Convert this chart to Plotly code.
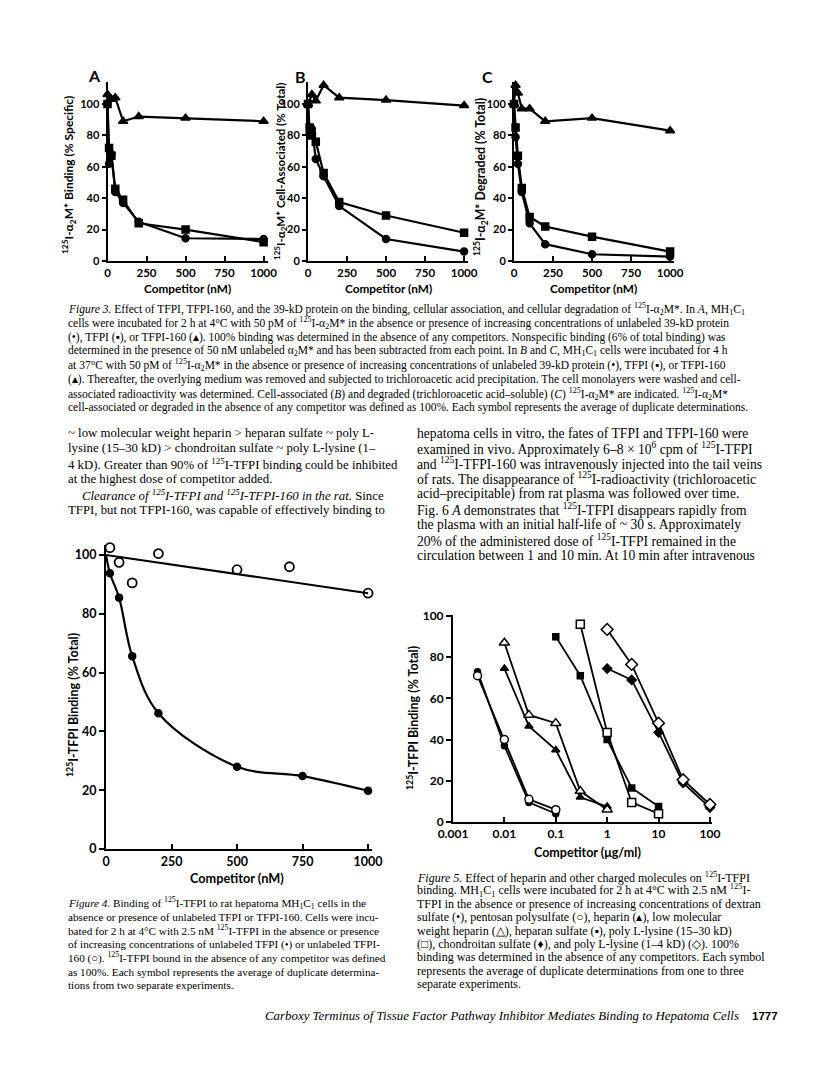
import plotly.graph_objects as go

# The page body adds an 8px margin around the figure; the figure is sized so that
# page pixel p corresponds to figure pixel p - 8.
OFF = 8
FW, FH = 800, 1066

# ---------------- Figure 3 data (competitor, nM) ----------------
comp_nM = [0, 10, 25, 50, 100, 200, 500, 1000]
A_tri_x = [0, 25, 50, 100, 200, 500, 1000]
A_39kD = [100, 62, 68, 44, 37, 25, 14.5, 14]
A_TFPI = [100, 72, 67, 46, 39, 24, 20, 12]
A_TFPI160 = [106, 103, 104, 89, 92, 91, 89]
B_tri_x = [0, 25, 50, 100, 200, 500, 1000]
B_39kD = [100, 81, 84, 65, 54, 35, 14, 6]
B_TFPI = [100, 85, 80, 76, 56, 37.5, 29, 18]
B_TFPI160 = [100, 106, 102, 112, 104, 102.5, 99]
C_tri_x = [0, 10, 25, 50, 100, 200, 500, 1000]
C_39kD = [100, 79, 62, 44, 24, 10.7, 4.3, 2.8]
C_TFPI = [100, 85, 67, 46.5, 28, 22, 15.5, 6]
C_TFPI160 = [100, 112, 107, 97, 97, 89, 91, 83]
fig3_xticks = [0, 250, 500, 750, 1000]
fig3_yticks = [0, 20, 40, 60, 80, 100]

# ---------------- Figure 4 data ----------------
f4_tfpi_x = [15, 50, 100, 200, 500, 750, 1000]
f4_tfpi_y = [93.8, 85.5, 65.6, 46.2, 28, 24.8, 19.8]
f4_curve_x = [0, 15, 50, 100, 200, 500, 750, 1000]
f4_curve_y = [100, 93.8, 85.5, 65.6, 46.2, 28, 24.8, 19.8]
f4_160_x = [15, 50, 100, 200, 500, 700, 1000]
f4_160_y = [102.5, 97.5, 90.5, 100.5, 95, 96, 87]
f4_fit_x = [0, 1000]
f4_fit_y = [100, 87]

# ---------------- Figure 5 data (competitor, ug/ml) ----------------
dextran_x = [0.003, 0.01, 0.03, 0.1]
dextran_y = [73, 37, 9.5, 4]
pentosan_x = [0.003, 0.01, 0.03, 0.1]
pentosan_y = [71, 40, 11, 6]
heparin_x = [0.01, 0.03, 0.1, 0.3, 1]
heparin_y = [74.5, 46.5, 35, 12, 7.5]
lmwhep_x = [0.01, 0.03, 0.1, 0.3, 1]
lmwhep_y = [87, 52, 48, 15, 6]
heparan_x = [0.1, 0.3, 1, 3, 10]
heparan_y = [90, 71, 40, 16.5, 7.5]
pll15_x = [0.3, 1, 3, 10]
pll15_y = [96, 43.5, 9.5, 4]
chondro_x = [1, 3, 10, 30, 100]
chondro_y = [74.5, 69, 43.5, 19, 7]
pll1_x = [1, 3, 10, 30, 100]
pll1_y = [93.5, 76.5, 48, 20.5, 8.5]
fig5_xticks = [0.001, 0.01, 0.1, 1, 10, 100]
fig5_xticktext = ["0.001", "0.01", "0.1", "1", "10", "100"]

SANS = "Lato"
SERIF = "Liberation Serif"

fig = go.Figure()


def line_trace(x, y, sym, ax, size=7, lw=2.2, mlw=1.5, shape="linear", mode="lines+markers", fill="black"):
    fig.add_trace(go.Scatter(
        x=x, y=y, mode=mode, xaxis=ax[0], yaxis=ax[1],
        line=dict(color="black", width=lw, shape=shape),
        marker=dict(symbol=sym, size=size, color=fill,
                    line=dict(color="black", width=mlw)),
        cliponaxis=False, showlegend=False, hoverinfo="skip"))


# Figure 3 panels
panels = [
    (("x", "y"), comp_nM, A_39kD, A_TFPI, A_tri_x, A_TFPI160),
    (("x2", "y2"), comp_nM, B_39kD, B_TFPI, B_tri_x, B_TFPI160),
    (("x3", "y3"), comp_nM, C_39kD, C_TFPI, C_tri_x, C_TFPI160),
]
for ax, xs, c39, tf, tx, t160 in panels:
    line_trace(tx, t160, "triangle-up", ax, size=8)
    line_trace(xs, tf, "square", ax, size=7)
    line_trace(xs, c39, "circle", ax, size=7)

# Figure 4
f4 = ("x4", "y4")
line_trace(f4_curve_x, f4_curve_y, "circle", f4, lw=2.2, shape="spline", mode="lines")
line_trace(f4_tfpi_x, f4_tfpi_y, "circle", f4, size=7, mode="markers")
line_trace(f4_fit_x, f4_fit_y, "circle", f4, lw=2, mode="lines")
line_trace(f4_160_x, f4_160_y, "circle-open", f4, size=9, mlw=1.8, mode="markers")

# Figure 5
f5 = ("x5", "y5")
line_trace(dextran_x, dextran_y, "circle", f5, size=6, lw=1.8)
line_trace(pentosan_x, pentosan_y, "circle", f5, size=8, lw=1.8, fill="white")
line_trace(heparin_x, heparin_y, "triangle-up", f5, size=7, lw=1.8)
line_trace(lmwhep_x, lmwhep_y, "triangle-up", f5, size=9, lw=1.8, fill="white")
line_trace(heparan_x, heparan_y, "square", f5, size=6, lw=1.8)
line_trace(pll15_x, pll15_y, "square", f5, size=8, lw=1.8, fill="white")
line_trace(chondro_x, chondro_y, "diamond", f5, size=7, lw=1.8)
line_trace(pll1_x, pll1_y, "diamond", f5, size=9, lw=1.8, fill="white")


def PX(p):
    return (p - OFF) / FW


def PY(p):
    return 1 - (p - OFF) / FH


def xdom(a, b):
    return [PX(a), PX(b)]


def ydom(bottom, top):
    return [PY(bottom), PY(top)]


def ax_common(tickvals, ticks, size=12, ticktext=None, ticklen=5):
    d = dict(showline=True, linecolor="black", linewidth=2, showgrid=False, zeroline=False,
             ticks=ticks, ticklen=ticklen, tickwidth=1.5, tickcolor="black", automargin=False,
             tickvals=tickvals,
             tickfont=dict(family=SANS, size=size, color="black", weight="bold"),
             fixedrange=True)
    if ticktext is not None:
        d["ticktext"] = ticktext
    return d


layout_axes = {}
for i, x0 in enumerate([107.5, 308, 514]):
    sfx = "" if i == 0 else str(i + 1)
    layout_axes["xaxis" + sfx] = dict(domain=xdom(x0, x0 + 160), range=[0, 1025],
                                      anchor="y" + sfx, **ax_common(fig3_xticks, "inside", 11.5))
    layout_axes["yaxis" + sfx] = dict(domain=ydom(261, 82), range=[0, 114],
                                      anchor="x" + sfx, **ax_common(fig3_yticks, "outside", 11, ticklen=4))

layout_axes["xaxis4"] = dict(domain=xdom(106, 372), range=[0, 1015], anchor="y4",
                             **ax_common(fig3_xticks, "inside", 12.5))
layout_axes["yaxis4"] = dict(domain=ydom(849, 545), range=[0, 103.4], anchor="x4",
                             **ax_common(fig3_yticks, "outside", 12.5))
layout_axes["xaxis5"] = dict(domain=xdom(453, 712), type="log", range=[-3, 2.04], anchor="y5",
                             **ax_common(fig5_xticks, "inside", 12, ticktext=fig5_xticktext))
layout_axes["yaxis5"] = dict(domain=ydom(822, 615), range=[0, 100.5], anchor="x5",
                             **ax_common(fig3_yticks, "outside", 12))

ann = []


def txt(x, y, s, size, family=SERIF, anchor="left", angle=0, yanchor="middle", weight="normal"):
    ann.append(dict(x=PX(x), y=PY(y), xref="paper", yref="paper", text=s, showarrow=False,
                    xanchor=anchor, yanchor=yanchor, textangle=angle,
                    font=dict(family=family, size=size, color="black", weight=weight)))


A2M = "<sup>125</sup>I-α<sub>2</sub>M*"
# Figure 3 labels
txt(94, 75, "A", 16, SANS, "center", weight="bold")
txt(300, 76, "B", 16, SANS, "center", weight="bold")
txt(487, 76, "C", 16, SANS, "center", weight="bold")
txt(69, 175, A2M + " Binding (% Specific)", 12, SANS, "center", -90, weight="bold")
txt(280, 172, A2M + " Cell-Associated (% Total)", 11.5, SANS, "center", -90, weight="bold")
txt(481, 177, A2M + " Degraded (% Total)", 12.3, SANS, "center", -90, weight="bold")
for cx in [187, 388, 593]:
    txt(cx, 288, "Competitor (nM)", 11.8, SANS, "center", weight="bold")

cap3 = [
    "<i>Figure 3.</i> Effect of TFPI, TFPI-160, and the 39-kD protein on the binding, cellular association, and cellular degradation of " + A2M + ". In <i>A</i>, MH<sub>1</sub>C<sub>1</sub>",
    "cells were incubated for 2 h at 4°C with 50 pM of " + A2M + " in the absence or presence of increasing concentrations of unlabeled 39-kD protein",
    "(•), TFPI (▪), or TFPI-160 (▴). 100% binding was determined in the absence of any competitors. Nonspecific binding (6% of total binding) was",
    "determined in the presence of 50 nM unlabeled α<sub>2</sub>M* and has been subtracted from each point. In <i>B</i> and <i>C</i>, MH<sub>1</sub>C<sub>1</sub> cells were incubated for 4 h",
    "at 37°C with 50 pM of " + A2M + " in the absence or presence of increasing concentrations of unlabeled 39-kD protein (•), TFPI (▪), or TFPI-160",
    "(▴). Thereafter, the overlying medium was removed and subjected to trichloroacetic acid precipitation. The cell monolayers were washed and cell-",
    "associated radioactivity was determined. Cell-associated (<i>B</i>) and degraded (trichloroacetic acid–soluble) (<i>C</i>) " + A2M + " are indicated. " + A2M,
    "cell-associated or degraded in the absence of any competitor was defined as 100%. Each symbol represents the average of duplicate determinations.",
]
for i, s in enumerate(cap3):
    txt(66, 309 + i * 14.1, s, 11.5)

col1 = [
    "~ low molecular weight heparin > heparan sulfate ~ poly L-",
    "lysine (15–30 kD) > chondroitan sulfate ~ poly L-lysine (1–",
    "4 kD). Greater than 90% of <sup>125</sup>I-TFPI binding could be inhibited",
    "at the highest dose of competitor added.",
    "<i>Clearance of <sup>125</sup>I-TFPI and <sup>125</sup>I-TFPI-160 in the rat.</i> Since",
    "TFPI, but not TFPI-160, was capable of effectively binding to",
]
for i, s in enumerate(col1):
    txt(80 if i == 4 else 66, 433 + i * 15.4, s, 12.8)

col2 = [
    "hepatoma cells in vitro, the fates of TFPI and TFPI-160 were",
    "examined in vivo. Approximately 6–8 × 10<sup>6</sup> cpm of <sup>125</sup>I-TFPI",
    "and <sup>125</sup>I-TFPI-160 was intravenously injected into the tail veins",
    "of rats. The disappearance of <sup>125</sup>I-radioactivity (trichloroacetic",
    "acid–precipitable) from rat plasma was followed over time.",
    "Fig. 6 <i>A</i> demonstrates that <sup>125</sup>I-TFPI disappears rapidly from",
    "the plasma with an initial half-life of ~ 30 s. Approximately",
    "20% of the administered dose of <sup>125</sup>I-TFPI remained in the",
    "circulation between 1 and 10 min. At 10 min after intravenous",
]
for i, s in enumerate(col2):
    txt(415, 433 + i * 15.3, s, 13.6)

# Figure 4 labels
txt(72, 705, "<sup>125</sup>I-TFPI Binding (% Total)", 12.5, SANS, "center", -90, weight="bold")
txt(237, 878, "Competitor (nM)", 12.7, SANS, "center", weight="bold")
cap4 = [
    "<i>Figure 4.</i> Binding of <sup>125</sup>I-TFPI to rat hepatoma MH<sub>1</sub>C<sub>1</sub> cells in the",
    "absence or presence of unlabeled TFPI or TFPI-160. Cells were incu-",
    "bated for 2 h at 4°C with 2.5 nM <sup>125</sup>I-TFPI in the absence or presence",
    "of increasing concentrations of unlabeled TFPI (•) or unlabeled TFPI-",
    "160 (○). <sup>125</sup>I-TFPI bound in the absence of any competitor was defined",
    "as 100%. Each symbol represents the average of duplicate determina-",
    "tions from two separate experiments.",
]
for i, s in enumerate(cap4):
    txt(66, 903 + i * 13.7, s, 11.2)

# Figure 5 labels
txt(412, 718, "<sup>125</sup>I-TFPI Binding (% Total)", 12.5, SANS, "center", -90, weight="bold")
txt(587, 852, "Competitor (μg/ml)", 12.5, SANS, "center", weight="bold")
cap5 = [
    "<i>Figure 5.</i> Effect of heparin and other charged molecules on <sup>125</sup>I-TFPI",
    "binding. MH<sub>1</sub>C<sub>1</sub> cells were incubated for 2 h at 4°C with 2.5 nM <sup>125</sup>I-",
    "TFPI in the absence or presence of increasing concentrations of dextran",
    "sulfate (•), pentosan polysulfate (○), heparin (▴), low molecular",
    "weight heparin (△), heparan sulfate (▪), poly L-lysine (15–30 kD)",
    "(□), chondroitan sulfate (♦), and poly L-lysine (1–4 kD) (◇). 100%",
    "binding was determined in the absence of any competitors. Each symbol",
    "represents the average of duplicate determinations from one to three",
    "separate experiments.",
]
for i, s in enumerate(cap5):
    txt(415, 877 + i * 13.4, s, 12)

# Footer
txt(263, 1016, "<i>Carboxy Terminus of Tissue Factor Pathway Inhibitor Mediates Binding to Hepatoma Cells</i>", 12.9)
txt(750, 1016, "1777", 11.5, "Liberation Sans", weight="bold")

fig.update_layout(width=FW, height=FH, autosize=False,
                  margin=dict(l=0, r=0, t=0, b=0, pad=0, autoexpand=False),
                  paper_bgcolor="white", plot_bgcolor="white", showlegend=False,
                  annotations=ann, **layout_axes)

fig.write_html("out.html")
